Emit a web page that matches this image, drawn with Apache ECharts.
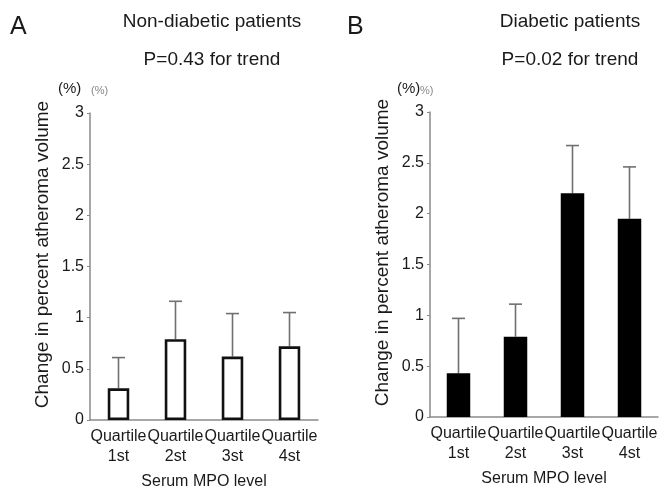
<!DOCTYPE html>
<html>
<head>
<meta charset="utf-8">
<script src="https://cdn.jsdelivr.net/npm/echarts@6/dist/echarts.min.js"></script>
<style>
  html, body { margin: 0; padding: 0; background: #fff; }
  #chart { width: 669px; height: 491px; }
</style>
</head>
<body>
<div id="chart"></div>
<script>
// quartiles of serum MPO
const categories = ['Quartile\n1st', 'Quartile\n2st', 'Quartile\n3st', 'Quartile\n4st'];
const yTicks = [0, 0.5, 1, 1.5, 2, 2.5, 3];

// non-diabetic patients (panel A)
const nonDiabeticMean = [0.31, 0.79, 0.62, 0.72];
const nonDiabeticUpper = [0.61, 1.16, 1.04, 1.05];

// diabetic patients (panel B)
const diabeticMean = [0.43, 0.79, 2.2, 1.95];
const diabeticUpper = [0.97, 1.11, 2.67, 2.46];

const font = 'Liberation Sans, Arial, Helvetica, sans-serif';
const axisGray = '#8a8a8a';
const textColor = '#1a1a1a';

function errorData(means, uppers) {
    return means.map((m, i) => [i, m, uppers[i]]);
}

function renderError(params, api) {
    const base = api.coord([api.value(0), api.value(1)]);
    const top = api.coord([api.value(0), api.value(2)]);
    const half = 6.5;
    const style = { stroke: '#707070', lineWidth: 1.6 };
    return {
        type: 'group',
        children: [
            { type: 'line', shape: { x1: base[0], y1: base[1], x2: top[0], y2: top[1] }, style: style },
            { type: 'line', shape: { x1: top[0] - half, y1: top[1], x2: top[0] + half, y2: top[1] }, style: style }
        ]
    };
}

function xAxisFor(gridIndex) {
    return {
        type: 'category',
        gridIndex: gridIndex,
        data: categories,
        name: 'Serum MPO level',
        nameLocation: 'middle',
        nameGap: 54,
        nameTextStyle: { fontFamily: font, fontSize: 16, color: textColor },
        axisLine: { lineStyle: { color: axisGray, width: 1.5 } },
        axisTick: { show: false },
        axisLabel: { interval: 0, fontFamily: font, fontSize: 16, color: textColor, lineHeight: 20, margin: 7 }
    };
}

function yAxisFor(gridIndex) {
    return {
        type: 'value',
        gridIndex: gridIndex,
        min: yTicks[0],
        max: yTicks[yTicks.length - 1],
        interval: 0.5,
        name: 'Change in percent atheroma volume',
        nameLocation: 'middle',
        nameRotate: 90,
        nameGap: 38,
        nameTextStyle: { fontFamily: font, fontSize: 19, color: textColor, padding: [0, 0, 0, 24] },
        axisLine: { show: true, lineStyle: { color: axisGray, width: 1.5 } },
        axisTick: { show: true, length: 3, lineStyle: { color: axisGray } },
        splitLine: { show: false },
        axisLabel: { fontFamily: font, fontSize: 16, color: textColor, margin: 6 }
    };
}

const chart = echarts.init(document.getElementById('chart'));

const option = {
    backgroundColor: '#fff',
    animation: false,
    title: [
        { text: 'A', left: 5, top: 10, textStyle: { fontFamily: font, fontSize: 25, fontWeight: 'normal', color: textColor } },
        { text: 'Non-diabetic patients', left: 207, top: 7, textAlign: 'center', textStyle: { fontFamily: font, fontSize: 19, fontWeight: 'normal', color: textColor } },
        { text: 'P=0.43 for trend', left: 207, top: 45, textAlign: 'center', textStyle: { fontFamily: font, fontSize: 19, fontWeight: 'normal', color: textColor } },
        { text: 'B', left: 342, top: 10, textStyle: { fontFamily: font, fontSize: 25, fontWeight: 'normal', color: textColor } },
        { text: 'Diabetic patients', left: 565, top: 7, textAlign: 'center', textStyle: { fontFamily: font, fontSize: 19, fontWeight: 'normal', color: textColor } },
        { text: 'P=0.02 for trend', left: 565, top: 45, textAlign: 'center', textStyle: { fontFamily: font, fontSize: 19, fontWeight: 'normal', color: textColor } }
    ],
    graphic: [
        { type: 'text', left: 58, top: 81, style: { text: '(%)', font: '15px ' + font, fill: textColor } },
        { type: 'text', left: 91, top: 85, style: { text: '(%)', font: '11px ' + font, fill: '#888' } },
        { type: 'text', left: 397, top: 81, style: { text: '(%)', font: '15px ' + font, fill: textColor } },
        { type: 'text', left: 420, top: 85, style: { text: '%)', font: '11px ' + font, fill: '#888' } }
    ],
    grid: [
        { left: 90, top: 113, width: 228, height: 307, outerBoundsMode: 'none' },
        { left: 430, top: 112, width: 228, height: 305, outerBoundsMode: 'none' }
    ],
    xAxis: [xAxisFor(0), xAxisFor(1)],
    yAxis: [yAxisFor(0), yAxisFor(1)],
    series: [
        {
            type: 'custom',
            xAxisIndex: 0,
            yAxisIndex: 0,
            renderItem: renderError,
            data: errorData(nonDiabeticMean, nonDiabeticUpper),
            z: 1
        },
        {
            type: 'bar',
            xAxisIndex: 0,
            yAxisIndex: 0,
            data: nonDiabeticMean,
            barWidth: 21.5,
            itemStyle: { color: '#fff', borderColor: '#111', borderWidth: 2.6 },
            z: 2
        },
        {
            type: 'custom',
            xAxisIndex: 1,
            yAxisIndex: 1,
            renderItem: renderError,
            data: errorData(diabeticMean, diabeticUpper),
            z: 1
        },
        {
            type: 'bar',
            xAxisIndex: 1,
            yAxisIndex: 1,
            data: diabeticMean,
            barWidth: 23.5,
            itemStyle: { color: '#000' },
            z: 2
        }
    ]
};

chart.setOption(option);
</script>
</body>
</html>
